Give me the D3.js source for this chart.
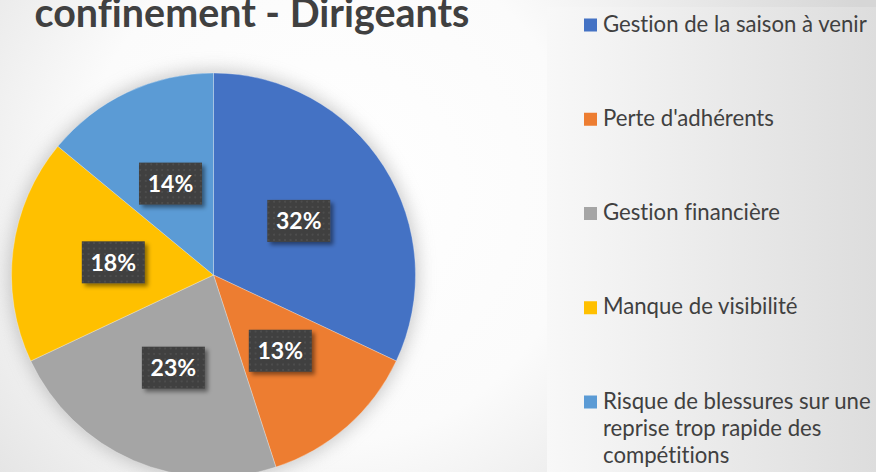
<!DOCTYPE html>
<html>
<head>
<meta charset="utf-8">
<script src="https://cdn.jsdelivr.net/npm/d3@7"></script>
<style>
  html, body { margin: 0; padding: 0; background: #fff; }
  svg { display: block; }
  text { font-variant-ligatures: none; font-feature-settings: "liga" 0, "clig" 0; }
</style>
</head>
<body>
<svg id="chart" width="876" height="472"></svg>
<script>
const categories = [
  "Gestion de la saison à venir",
  "Perte d'adhérents",
  "Gestion financière",
  "Manque de visibilité",
  "Risque de blessures sur une reprise trop rapide des compétitions"
];
const values = [32, 13, 23, 18, 14];
const colors = ["#4472C4", "#ED7D31", "#A5A5A5", "#FFC000", "#5B9BD5"];
const titleText = "confinement - Dirigeants";

const W = 876, H = 472;
const svg = d3.select("#chart");
const defs = svg.append("defs");

const bg = defs.append("radialGradient").attr("id", "bgGrad")
  .attr("gradientUnits", "userSpaceOnUse")
  .attr("cx", 330).attr("cy", 190).attr("r", 560);
bg.append("stop").attr("offset", "0%").attr("stop-color", "#ffffff");
bg.append("stop").attr("offset", "45%").attr("stop-color", "#fbfbfb");
bg.append("stop").attr("offset", "100%").attr("stop-color", "#d6d6d6");

const pg = defs.append("linearGradient").attr("id", "panelGrad")
  .attr("x1", "0%").attr("x2", "100%").attr("y1", "0%").attr("y2", "0%");
pg.append("stop").attr("offset", "0%").attr("stop-color", "#f8f8f8");
pg.append("stop").attr("offset", "100%").attr("stop-color", "#dddddd");

const glow = defs.append("filter").attr("id", "glow")
  .attr("x", "-30%").attr("y", "-30%").attr("width", "160%").attr("height", "160%");
glow.append("feGaussianBlur").attr("stdDeviation", 9);

const sh = defs.append("filter").attr("id", "boxShadow")
  .attr("x", "-30%").attr("y", "-30%").attr("width", "170%").attr("height", "170%");
sh.append("feDropShadow").attr("dx", 3).attr("dy", 3).attr("stdDeviation", 2.2)
  .attr("flood-color", "#000").attr("flood-opacity", 0.45);

const pat = defs.append("pattern").attr("id", "dots")
  .attr("patternUnits", "userSpaceOnUse").attr("width", 5.5).attr("height", 5.5);
pat.append("rect").attr("width", 5.5).attr("height", 5.5).attr("fill", "#404040");
pat.append("rect").attr("x", 2).attr("y", 2).attr("width", 1.5).attr("height", 1.5).attr("fill", "#555555");

svg.append("rect").attr("width", W).attr("height", H).attr("fill", "url(#bgGrad)");
svg.append("rect").attr("x", 547).attr("y", 7).attr("width", W - 547).attr("height", H - 7)
  .attr("fill", "url(#panelGrad)");

// title (its upper line lies above the visible frame, as in the reference)
const title = svg.append("text")
  .attr("x", 252).attr("y", 27)
  .attr("text-anchor", "middle")
  .attr("font-family", "Lato, 'Open Sans', sans-serif")
  .attr("font-weight", "bold")
  .attr("font-size", 36)
  .attr("fill", "#404040")
  .text(titleText);
{
  const w = title.node().getComputedTextLength();
  title.attr("font-size", 36 * 435 / w);
}

// pie
const cx = 213.5, cy = 275, R = 202;
const g = svg.append("g").attr("transform", `translate(${cx},${cy})`);
g.append("circle").attr("r", R + 2).attr("fill", "#9a9a9a").attr("opacity", 0.55)
  .attr("filter", "url(#glow)");

const pie = d3.pie().sort(null).value(d => d.v);
const arcs = pie(categories.map((c, i) => ({ c, v: values[i], i })));
const arc = d3.arc().innerRadius(0).outerRadius(R);
const total = d3.sum(values);

g.selectAll("path.slice").data(arcs).join("path")
  .attr("class", "slice")
  .attr("d", arc)
  .attr("fill", d => colors[d.data.i])
  .attr("stroke", "rgba(255,255,255,0.5)")
  .attr("stroke-width", 0.6);

const lbl = g.selectAll("g.lbl").data(arcs).join("g")
  .attr("class", "lbl")
  .attr("transform", d => {
    const [x, y] = arc.centroid(d);
    return `translate(${x},${y})`;
  });
lbl.append("rect")
  .attr("x", -31.5).attr("y", -21).attr("width", 63).attr("height", 42)
  .attr("fill", "url(#dots)")
  .attr("filter", "url(#boxShadow)");
lbl.append("text")
  .attr("text-anchor", "middle")
  .attr("dy", "0.36em")
  .attr("font-family", "Lato, 'Open Sans', sans-serif")
  .attr("font-weight", "bold")
  .attr("font-size", 23)
  .attr("fill", "#ffffff")
  .text(d => Math.round(d.data.v / total * 100) + "%");

// legend
const legY = d3.scalePoint().domain(categories).range([25, 402]);
const legFont = "Lato, 'Open Sans', sans-serif";
const probe = svg.append("text").attr("font-family", legFont).attr("font-size", 100).text(categories[0]);
const legSize = 100 * 264 / probe.node().getComputedTextLength();
probe.remove();
const textX = 603, maxW = 272, lineH = 27;

const leg = svg.append("g");
categories.forEach((c, i) => {
  const y = legY(c);
  leg.append("rect").attr("x", 584).attr("y", y - 6.5).attr("width", 13).attr("height", 13)
    .attr("fill", colors[i]);
  const t = leg.append("text")
    .attr("font-family", legFont).attr("font-size", legSize).attr("fill", "#404040")
    .attr("x", textX).attr("y", y + 6.5);
  const words = c.split(" ");
  let line = [];
  let ts = t.append("tspan").attr("x", textX);
  words.forEach(w => {
    line.push(w);
    ts.text(line.join(" "));
    if (ts.node().getComputedTextLength() > maxW && line.length > 1) {
      line.pop();
      ts.text(line.join(" "));
      line = [w];
      ts = t.append("tspan").attr("x", textX).attr("dy", lineH).text(w);
    }
  });
});
</script>
</body>
</html>
